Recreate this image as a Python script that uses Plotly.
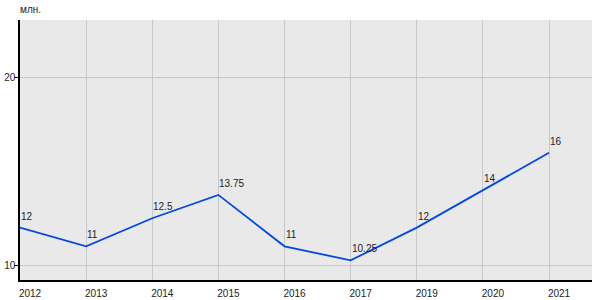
import plotly.graph_objects as go

years = ["2012", "2013", "2014", "2015", "2016", "2017", "2019", "2020", "2021"]
values = [12, 11, 12.5, 13.75, 11, 10.25, 12, 14, 16]
labels = ["12", "11", "12.5", "13.75", "11", "10.25", "12", "14", "16"]

xpos = list(range(len(years)))

fig = go.Figure()
fig.add_trace(go.Scatter(
    x=xpos, y=values, mode="lines",
    line=dict(color="#0048e6", width=1.8),
    cliponaxis=False, hoverinfo="skip",
))

annots = [dict(text="млн.", xref="paper", yref="paper", x=0, y=1,
               xanchor="left", yanchor="bottom", yshift=3, xshift=-2, showarrow=False,
               font=dict(size=10, color="#222222"))]
for xi, v, t in zip(xpos, values, labels):
    annots.append(dict(text=t, x=xi, y=v, xref="x", yref="y",
                       xanchor="left", yanchor="bottom", xshift=-1, yshift=4,
                       showarrow=False,
                       font=dict(family="Arial, Liberation Sans", size=10, color="#222222")))

fig.update_layout(
    width=600, height=300,
    margin=dict(l=20, r=8, t=20, b=20, autoexpand=False),
    paper_bgcolor="white", plot_bgcolor="#e9e9e9",
    showlegend=False,
    font=dict(family="Arial, Liberation Sans", size=10, color="#222222"),
    annotations=annots,
)
fig.update_xaxes(
    range=[0, 8.65], tickvals=xpos, ticktext=years,
    showgrid=True, gridcolor="#c8c8c8", gridwidth=1,
    showline=True, linecolor="black", linewidth=1.5,
    ticks="", ticklabelshift=10, ticklabelstandoff=3, zeroline=False,
    automargin=False,
)
fig.update_yaxes(
    range=[9.2, 23.1], tickvals=[10, 20],
    showgrid=True, gridcolor="#c8c8c8", gridwidth=1,
    showline=True, linecolor="black", linewidth=1.5,
    ticks="outside", ticklen=4, tickcolor="black", zeroline=False,
    automargin=False, ticklabelstandoff=-3,
)

fig.write_html("out.html")
